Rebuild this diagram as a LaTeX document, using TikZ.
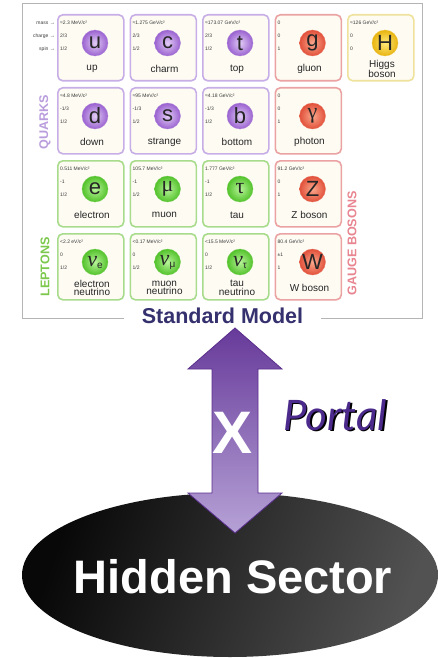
\documentclass[tikz,border=0pt]{standalone}
\usepackage{fontspec}
\setmainfont{Liberation Sans}
\newfontfamily\greekfont{Liberation Serif}
\newfontfamily\portalfont{Lato}
\usetikzlibrary{calc,shapes.geometric}
\definecolor{frameline}{HTML}{B4B4B4}
\definecolor{cellbg}{HTML}{FDFBF2}
\definecolor{datagray}{HTML}{3A3A3A}
\definecolor{quarkline}{HTML}{C8AEE6}
\definecolor{quarklight}{HTML}{E2CCF6}
\definecolor{quarkdark}{HTML}{9A62D0}
\definecolor{leptonline}{HTML}{A8DC8C}
\definecolor{leptonlight}{HTML}{B8F49A}
\definecolor{leptondark}{HTML}{52C22A}
\definecolor{bosonline}{HTML}{EBA2A2}
\definecolor{bosonlight}{HTML}{F9A88C}
\definecolor{bosondark}{HTML}{E2503A}
\definecolor{higgsline}{HTML}{EFE29C}
\definecolor{higgslight}{HTML}{FFEA7A}
\definecolor{higgsdark}{HTML}{E8B410}
\definecolor{quarktext}{HTML}{B99CDC}
\definecolor{leptontext}{HTML}{7CC84C}
\definecolor{bosontext}{HTML}{E88590}
\definecolor{smnavy}{HTML}{35306E}
\definecolor{arrowtop}{HTML}{673A9A}
\definecolor{arrowbot}{HTML}{B6A2D6}
\definecolor{arrowedge}{HTML}{5A2E8C}
\definecolor{portalpurple}{HTML}{4B2A8C}
% one particle: name, column, row, family, symbol, mass, charge, spin, label
\newcommand{\pcell}[9]{%
\node[cellbox,draw=#4line,anchor=north west] (#1) at ({57+72.5*(#2-1)},{14+73*(#3-1)}) {};
\node[datatext] at ($(#1.north west)+(3,9)$) {#6};
\node[datatext] at ($(#1.north west)+(3,22)$) {#7};
\node[datatext] at ($(#1.north west)+(3,35)$) {#8};
\node[ballnode,draw=#4dark!80,inner color=#4light,outer color=#4dark] (#1ball) at ($(#1.north west)+(38,29)$) {#5};
\node[nametext] (#1name) at ($(#1.north west)+(35,55)$) {#9};}
\newcommand{\nusym}[1]{{\greekfont\itshape ν}\raisebox{-2pt}{\fontsize{10}{10}\selectfont #1}}
\begin{document}
\begin{tikzpicture}[x=1pt,y=-1pt,
cellbox/.style={line width=1.6pt,rounded corners=5pt,fill=cellbg,minimum width=66pt,minimum height=66pt,inner sep=0pt},
datatext/.style={anchor=west,inner sep=0pt,text=datagray,font=\fontsize{5}{5}\selectfont},
rowlabel/.style={anchor=east,inner sep=0pt,text=datagray,font=\fontsize{5}{5}\selectfont},
ballnode/.style={circle,line width=.3pt,minimum size=26pt,inner sep=0pt,text=black!85,font=\fontsize{22}{22}\selectfont},
nametext/.style={align=center,inner sep=0pt,text=black!85,font=\fontsize{10}{8.5}\selectfont},
family/.style={rotate=90,inner sep=0pt,font=\bfseries\fontsize{12.6}{12.6}\selectfont},
portalarrow/.style={draw=arrowedge,line width=.8pt,top color=arrowtop,bottom color=arrowbot},
hiddenbox/.style={ellipse,minimum width=416pt,minimum height=164pt,inner sep=0pt,left color=black!97,right color=black!68,shading angle=70},
hiddentext/.style={inner sep=0pt,text=white,font=\bfseries\fontsize{47}{47}\selectfont}]
\useasboundingbox (0,0) rectangle (438,658);
% Standard Model chart
\draw[frameline,line width=1pt] (22.5,4) rectangle (422,318);
\node[rowlabel] (lmass) at (55,22.7) {mass →};\node[rowlabel] (lcharge) at (55,36) {charge →};\node[rowlabel] (lspin) at (55,49) {spin →};
\pcell{qu}{1}{1}{quark}{u}{≈2.3 MeV/c²}{2/3}{1/2}{up}
\pcell{qc}{2}{1}{quark}{c}{≈1.275 GeV/c²}{2/3}{1/2}{charm}
\pcell{qt}{3}{1}{quark}{t}{≈173.07 GeV/c²}{2/3}{1/2}{top}
\pcell{bg}{4}{1}{boson}{g}{0}{0}{1}{gluon}
\pcell{bH}{5}{1}{higgs}{H}{≈126 GeV/c²}{0}{0}{Higgs\\boson}
\pcell{qd}{1}{2}{quark}{d}{≈4.8 MeV/c²}{-1/3}{1/2}{down}
\pcell{qs}{2}{2}{quark}{s}{≈95 MeV/c²}{-1/3}{1/2}{strange}
\pcell{qb}{3}{2}{quark}{b}{≈4.18 GeV/c²}{-1/3}{1/2}{bottom}
\pcell{bgam}{4}{2}{boson}{\greekfont γ}{0}{0}{1}{photon}
\pcell{le}{1}{3}{lepton}{e}{0.511 MeV/c²}{-1}{1/2}{electron}
\pcell{lmu}{2}{3}{lepton}{\greekfont μ}{105.7 MeV/c²}{-1}{1/2}{muon}
\pcell{ltau}{3}{3}{lepton}{\greekfont τ}{1.777 GeV/c²}{-1}{1/2}{tau}
\pcell{bZ}{4}{3}{boson}{Z}{91.2 GeV/c²}{0}{1}{Z boson}
\pcell{lnue}{1}{4}{lepton}{\nusym{e}}{<2.2 eV/c²}{0}{1/2}{electron\\neutrino}
\pcell{lnumu}{2}{4}{lepton}{\nusym{μ}}{<0.17 MeV/c²}{0}{1/2}{muon\\neutrino}
\pcell{lnutau}{3}{4}{lepton}{\nusym{τ}}{<15.5 MeV/c²}{0}{1/2}{tau\\neutrino}
\pcell{bW}{4}{4}{boson}{W}{80.4 GeV/c²}{±1}{1}{W boson}
\node[family,text=quarktext] (quarks) at (45,122) {QUARKS};
\node[family,text=leptontext] (leptons) at (45,267) {LEPTONS};
\node[family,text=bosontext] (bosons) at (352,243.5) {GAUGE BOSONS};
\node[fill=white,inner xsep=18pt,inner ysep=2pt,anchor=base,text=smnavy,font=\bfseries\fontsize{21.5}{21.5}\selectfont] (sm) at (222.5,323) {Standard Model};
% hidden sector and portal
\node[hiddenbox] (hs) at (230,575) {};
\node[hiddentext] (hstext) at ($(hs.center)+(3,2)$) {Hidden Sector};
\coordinate (tipup) at (235,328);\coordinate (tipdown) at (235,533);
\draw[portalarrow] (tipup)--(282,369)--(258,369)--(258,493)--(282,493)--(tipdown)--(188,493)--(212,493)--(212,369)--(188,369)--cycle;
\node[text=white,font=\bfseries\fontsize{60}{60}\selectfont] (xmark) at (233,433) {X};
\node[anchor=base west,inner sep=0pt,text=black,font=\portalfont\itshape\fontsize{42}{42}\selectfont] at (284.5,431.5) {Portal};
\node[anchor=base west,inner sep=0pt,text=portalpurple,font=\portalfont\itshape\fontsize{42}{42}\selectfont] (portal) at (283,430) {Portal};
\end{tikzpicture}
\end{document}
